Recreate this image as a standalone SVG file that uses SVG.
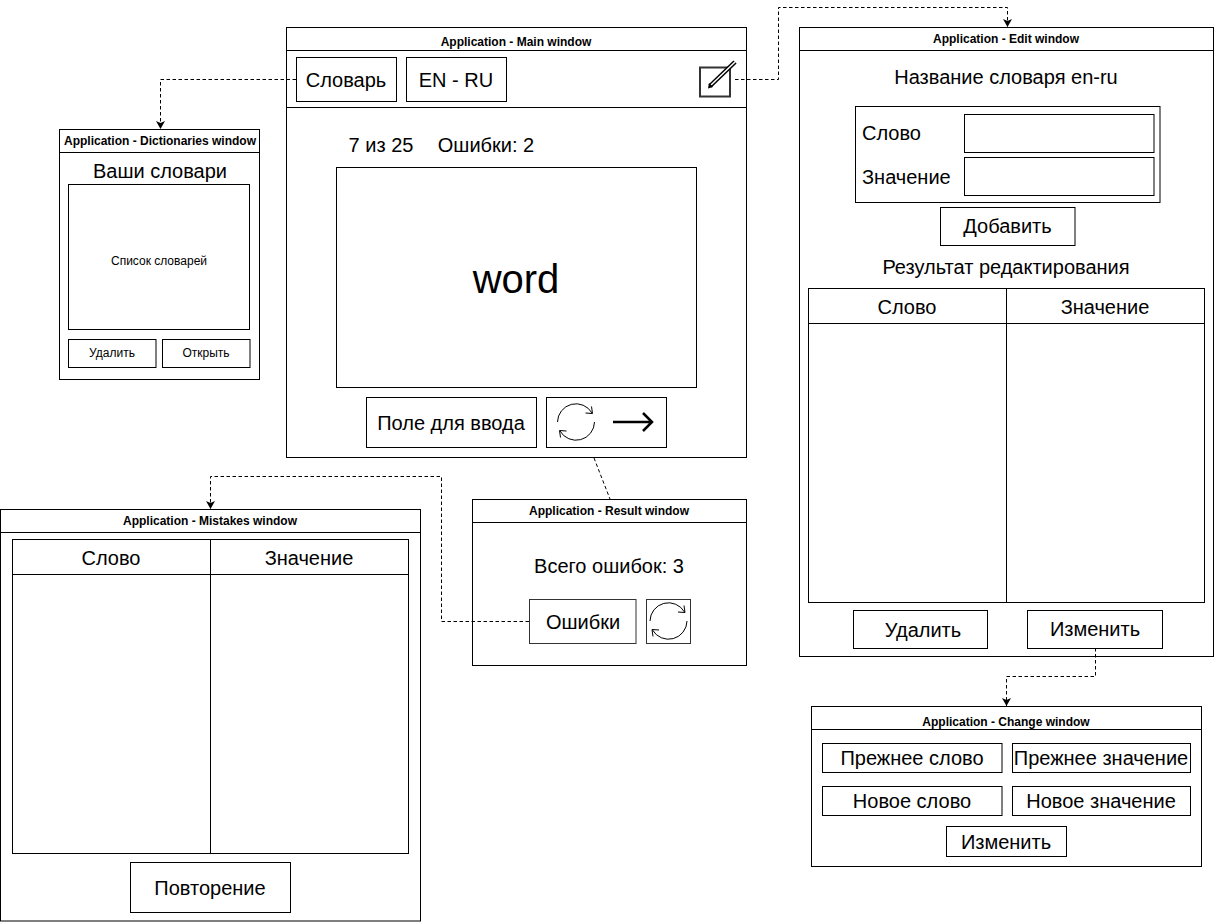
<svg xmlns="http://www.w3.org/2000/svg" width="1214" height="922" viewBox="0 0 1214 922">
<style>
text{font-family:"Liberation Sans",Arial,sans-serif;fill:#000;text-anchor:middle}
.t{font-size:12px;font-weight:bold}
.b{font-size:20px}
.l{font-size:20px;text-anchor:start}
.s{font-size:12px}
rect{fill:#fff;stroke:#000;stroke-width:1}
.g{stroke:#333}
.n{fill:none;stroke:#000;stroke-width:1}
.c{fill:none;stroke:#000;stroke-width:1;stroke-dasharray:3.500 2.500}
</style>
<defs>
<marker id="a" markerWidth="9" markerHeight="9" refX="8" refY="4.500" orient="auto" markerUnits="userSpaceOnUse"><path d="M0 0L8 4.500L0 9L2 4.500Z" fill="#000"/></marker>
<g id="cy"><path class="n" d="M-18.500 0A18.500 18.500 0 0 1 16-9M18.500 0A18.500 18.500 0 0 1-16 9"/><path class="n" stroke-width="1.400" d="M15.500-15.500L16.500-8.500L9.500-9M-15.500 15.500L-16.500 8.500L-9.500 9"/></g>
</defs>

<g id="main">
<rect x="286.500" y="27.500" width="460" height="430"/>
<path class="n" d="M286.500 50.500H746.500M286.500 107.500H746.500"/>
<text class="t" x="516" y="46">Application - Main window</text>
<rect x="296.500" y="57.500" width="100" height="44"/><text class="b" x="346" y="87">Словарь</text>
<rect x="406.500" y="57.500" width="100" height="44"/><text class="b" x="456" y="87">EN - RU</text>
<rect x="700" y="67.500" width="30" height="29" style="stroke:#333;stroke-width:2"/>
<path d="M710 86L735 62" style="fill:none;stroke:#000;stroke-width:4.500"/><path d="M711 85L735 62" style="fill:none;stroke:#fff;stroke-width:1.500"/><path d="M708 88.500L709 83L713 87Z" fill="#000"/>
<text class="b" x="381" y="152">7 из 25</text>
<text class="b" x="486" y="152">Ошибки: 2</text>
<rect x="336.500" y="167.500" width="360" height="220"/>
<text x="516" y="293" font-size="40">word</text>
<rect x="366.500" y="397.500" width="170" height="50"/><text class="b" x="451" y="430">Поле для ввода</text>
<rect x="546.500" y="397.500" width="120" height="50"/>
<use href="#cy" x="576" y="422"/>
<path d="M613 422H652M643 413L652 422L643 431" style="fill:none;stroke:#000;stroke-width:2.500"/>
</g>

<g id="dictionaries">
<rect x="59.500" y="129.500" width="200" height="250"/>
<path class="n" d="M59.500 152.500H259.500"/>
<text class="t" x="160" y="145">Application - Dictionaries window</text>
<text class="b" x="160" y="178">Ваши словари</text>
<rect x="68.500" y="184.500" width="181" height="145"/><text class="s" x="159" y="265">Список словарей</text>
<rect x="68.500" y="339.500" width="87.500" height="28"/><text class="s" x="112" y="357">Удалить</text>
<rect x="162.500" y="339.500" width="87.500" height="28"/><text class="s" x="206" y="357">Открыть</text>
</g>

<g id="edit">
<rect x="799.500" y="27.500" width="414" height="629"/>
<path class="n" d="M799.500 50.500H1213.500"/>
<text class="t" x="1006" y="43">Application - Edit window</text>
<text class="b" x="1006" y="84">Название словаря en-ru</text>
<rect x="855.500" y="106.500" width="304.500" height="96"/>
<text class="l" x="862" y="140">Слово</text><rect x="964.500" y="114.500" width="189.500" height="38"/>
<text class="l" x="862" y="184">Значение</text><rect x="964.500" y="157.500" width="189.500" height="38"/>
<rect x="940.500" y="207.500" width="134.500" height="38"/><text class="b" x="1007.500" y="233">Добавить</text>
<text class="b" x="1006" y="274">Результат редактирования</text>
<rect x="808.500" y="288.500" width="396" height="314"/>
<path class="n" d="M808.500 323.500H1204.500M1006.500 288.500V602.500"/>
<text class="b" x="907" y="314">Слово</text><text class="b" x="1105" y="314">Значение</text>
<rect x="853.500" y="610.500" width="134" height="38"/><text class="b" x="923" y="637">Удалить</text>
<rect x="1027.500" y="610.500" width="135" height="38"/><text class="b" x="1095" y="636">Изменить</text>
</g>

<g id="change">
<rect x="811.500" y="706.500" width="390" height="160"/>
<path class="n" d="M811.500 729.500H1201.500"/>
<text class="t" x="1006" y="726">Application - Change window</text>
<rect x="822.500" y="743.500" width="179.500" height="29"/><text class="b" x="912" y="765">Прежнее слово</text>
<rect x="1012.500" y="743.500" width="178" height="29"/><text class="b" x="1101" y="765">Прежнее значение</text>
<rect x="822.500" y="786.500" width="179.500" height="29"/><text class="b" x="912" y="808">Новое слово</text>
<rect x="1012.500" y="786.500" width="178" height="29"/><text class="b" x="1101" y="808">Новое значение</text>
<rect x="946.500" y="826.500" width="120" height="30"/><text class="b" x="1006" y="849">Изменить</text>
</g>

<g id="result">
<rect x="472.500" y="499.500" width="274" height="166"/>
<path class="n" d="M472.500 522.500H746.500"/>
<text class="t" x="609" y="515">Application - Result window</text>
<text class="b" x="609" y="573">Всего ошибок: 3</text>
<rect class="g" x="529.500" y="599.500" width="106.500" height="44"/><text class="b" x="583" y="629">Ошибки</text>
<rect class="g" x="646.500" y="599.500" width="44" height="44"/>
<use href="#cy" x="668.500" y="621"/>
</g>

<g id="mistakes">
<rect x="0.500" y="509.500" width="420" height="411.500"/>
<path class="n" d="M0.500 532.500H420.500"/>
<text class="t" x="210" y="525">Application - Mistakes window</text>
<rect x="12.500" y="539.500" width="396" height="314"/>
<path class="n" d="M12.500 574.500H408.500M210.500 539.500V853.500"/>
<text class="b" x="111" y="565">Слово</text><text class="b" x="309" y="565">Значение</text>
<rect x="130.500" y="862.500" width="160" height="50"/><text class="b" x="210" y="895">Повторение</text>
</g>

<g id="connectors">
<path class="c" d="M296 79.500H160.500V129" marker-end="url(#a)"/>
<path class="c" d="M735 79.500H778.500V7.500H1007.500V27" marker-end="url(#a)"/>
<path class="c" d="M594 458L610 499"/>
<path class="c" d="M529 621.500H441.500V476.500H210.500V509" marker-end="url(#a)"/>
<path class="c" d="M1095.500 648V676.500H1006.500V706" marker-end="url(#a)"/>
</g>
</svg>
